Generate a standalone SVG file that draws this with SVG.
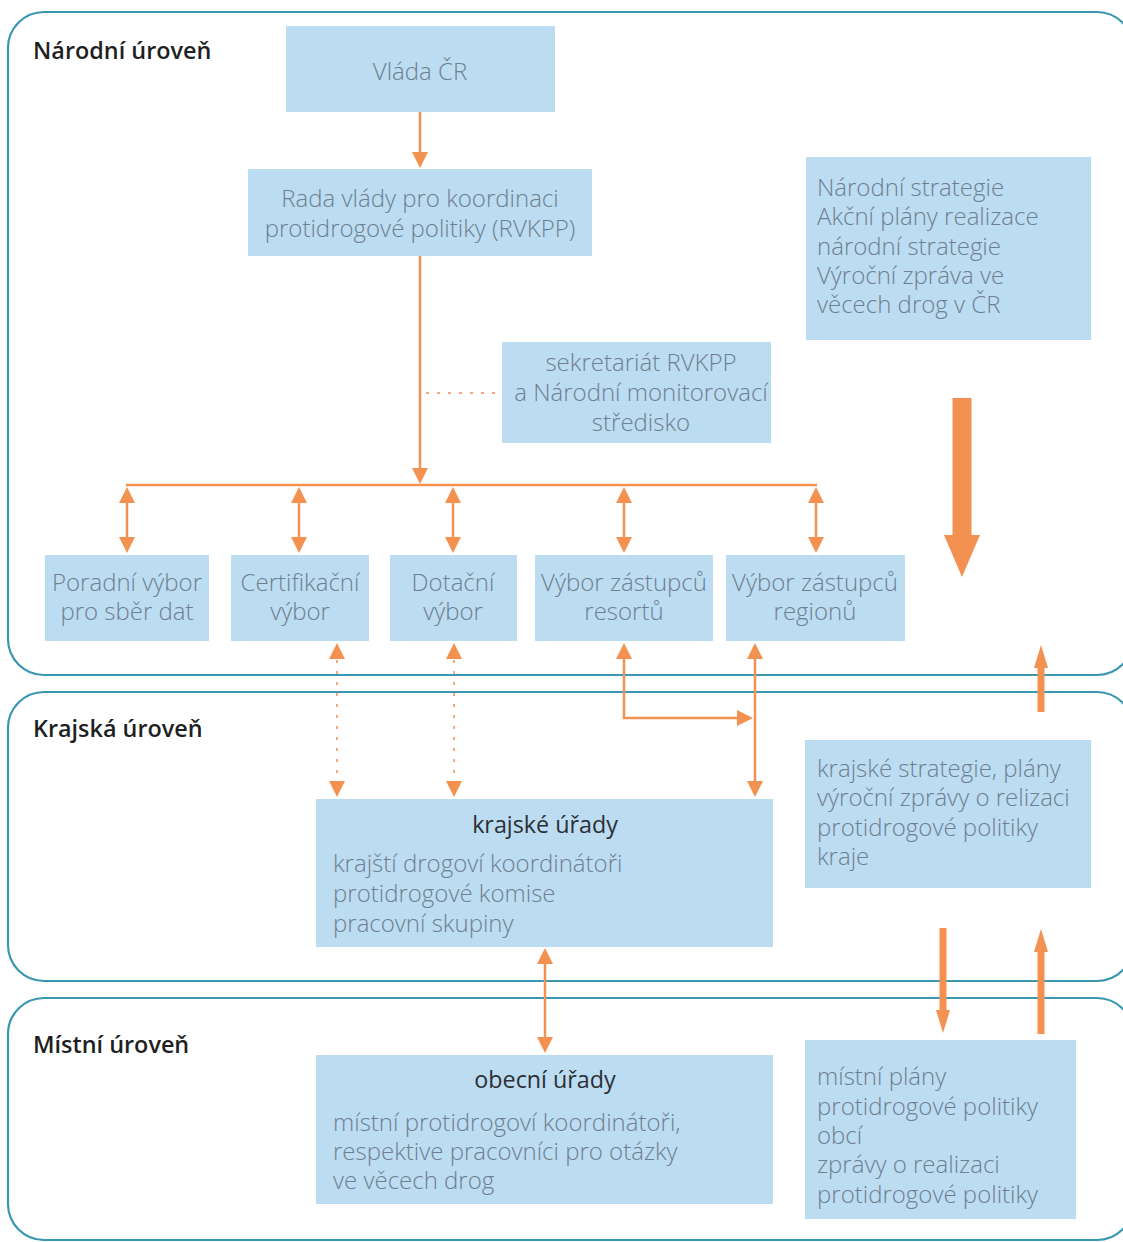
<svg xmlns="http://www.w3.org/2000/svg" width="1123" height="1242" viewBox="0 0 1123 1242">
<defs>
<style>
.panel{fill:none;stroke:#3a97b2;stroke-width:2.2}
.box{fill:#bcdcf2}
.t{font-family:"Open Sans","Liberation Sans",sans-serif;font-weight:300;font-size:24px;fill:#6e7f90}
.c{text-anchor:middle}
.h{font-family:"Open Sans","Liberation Sans",sans-serif;font-weight:600;font-size:23.4px;fill:#1f1f1f}
.tt{font-family:"Open Sans","Liberation Sans",sans-serif;font-weight:400;font-size:23.3px;fill:#2b2f35;text-anchor:middle}
.ln{fill:none;stroke:#f39150;stroke-width:2.5}
.ar{marker-end:url(#ah)}
.dbl{marker-start:url(#ah);marker-end:url(#ah)}
.dot{fill:none;stroke:#f5a879;stroke-width:2;stroke-dasharray:3 8}
.thick{fill:none;stroke:#f39150;stroke-width:7;marker-end:url(#ahT)}
.big{fill:#f39150}
</style>
<marker id="ah" viewBox="0 0 16 16" refX="0" refY="8" markerWidth="16" markerHeight="16" markerUnits="userSpaceOnUse" orient="auto-start-reverse">
<path d="M0,0 L16,8 L0,16 z" fill="#f39150"/>
</marker>
<marker id="ahT" viewBox="0 0 23 14" refX="0" refY="7" markerWidth="23" markerHeight="14" markerUnits="userSpaceOnUse" orient="auto">
<path d="M0,0 L23,7 L0,14 z" fill="#f39150"/>
</marker>
</defs>
<rect width="1123" height="1242" fill="#ffffff"/>

<g id="panels">
<rect id="panel-narodni" class="panel" x="8" y="12" width="1125" height="663" rx="36" ry="36"/>
<rect id="panel-krajska" class="panel" x="8" y="692" width="1125" height="289" rx="36" ry="36"/>
<rect id="panel-mistni" class="panel" x="8" y="998" width="1125" height="242" rx="36" ry="36"/>
<text class="h" x="33" y="59">Národní úroveň</text>
<text class="h" x="33" y="737">Krajská úroveň</text>
<text class="h" x="33" y="1053">Místní úroveň</text>
</g>

<g id="connectors">
<line class="ln ar" x1="420" y1="112" x2="420" y2="152"/>
<line class="ln ar" x1="420" y1="256" x2="420" y2="468"/>
<line class="dot" x1="426" y1="393" x2="501" y2="393"/>
<line class="ln" x1="126" y1="485" x2="817" y2="485"/>
<line class="ln dbl" x1="127" y1="503" x2="127" y2="537"/>
<line class="ln dbl" x1="299" y1="503" x2="299" y2="537"/>
<line class="ln dbl" x1="453" y1="503" x2="453" y2="537"/>
<line class="ln dbl" x1="624" y1="503" x2="624" y2="537"/>
<line class="ln dbl" x1="816" y1="503" x2="816" y2="537"/>
<line class="dot" x1="337" y1="660" x2="337" y2="781"/>
<path d="M329,659 L337,643 L345,659 z M329,781 L337,797 L345,781 z" fill="#f39150"/>
<line class="dot" x1="454" y1="660" x2="454" y2="781"/>
<path d="M446,659 L454,643 L462,659 z M446,781 L454,797 L462,781 z" fill="#f39150"/>
<path class="ln" d="M624,659 L624,718 L737,718" marker-end="url(#ah)"/>
<path d="M616,659 L624,643 L632,659 z" fill="#f39150"/>
<line class="ln dbl" x1="755" y1="659" x2="755" y2="781"/>
<polygon class="big" points="952.5,398 971.5,398 971.5,535 980,535 962,577 944,535 952.5,535"/>
<line class="thick" x1="1041" y1="712" x2="1041" y2="668"/>
<line class="thick" x1="943" y1="928" x2="943" y2="1010"/>
<line class="thick" x1="1041" y1="1034" x2="1041" y2="952"/>
<line class="ln dbl" x1="545" y1="964" x2="545" y2="1037"/>
</g>

<g id="vlada">
<rect class="box" x="286" y="26" width="269" height="86"/>
<text class="t c" x="420" y="80">Vláda ČR</text>
</g>
<g id="rada">
<rect class="box" x="248" y="169" width="344" height="87"/>
<text class="t c" x="420" y="207">Rada vlády pro koordinaci</text>
<text class="t c" x="420" y="237">protidrogové politiky (RVKPP)</text>
</g>
<g id="narodni-strategie">
<rect class="box" x="806" y="157" width="285" height="183"/>
<text class="t" x="817" y="196">Národní strategie</text>
<text class="t" x="817" y="225">Akční plány realizace</text>
<text class="t" x="817" y="255">národní strategie</text>
<text class="t" x="817" y="284">Výroční zpráva ve</text>
<text class="t" x="817" y="313">věcech drog v ČR</text>
</g>
<g id="sekretariat">
<rect class="box" x="502" y="342" width="269" height="101"/>
<text class="t c" x="641" y="371">sekretariát RVKPP</text>
<text class="t c" x="641" y="401">a Národní monitorovací</text>
<text class="t c" x="641" y="431">středisko</text>
</g>
<g id="poradni">
<rect class="box" x="45" y="555" width="164" height="86"/>
<text class="t c" x="127" y="591">Poradní výbor</text>
<text class="t c" x="127" y="620">pro sběr dat</text>
</g>
<g id="certifikacni">
<rect class="box" x="231" y="555" width="138" height="86"/>
<text class="t c" x="300" y="591">Certifikační</text>
<text class="t c" x="300" y="620">výbor</text>
</g>
<g id="dotacni">
<rect class="box" x="390" y="555" width="127" height="86"/>
<text class="t c" x="453" y="591">Dotační</text>
<text class="t c" x="453" y="620">výbor</text>
</g>
<g id="vybor-resortu">
<rect class="box" x="535" y="555" width="178" height="86"/>
<text class="t c" x="624" y="591">Výbor zástupců</text>
<text class="t c" x="624" y="620">resortů</text>
</g>
<g id="vybor-regionu">
<rect class="box" x="726" y="555" width="179" height="86"/>
<text class="t c" x="815" y="591">Výbor zástupců</text>
<text class="t c" x="815" y="620">regionů</text>
</g>
<g id="krajske-urady">
<rect class="box" x="316" y="799" width="457" height="148"/>
<text class="tt" x="545" y="833">krajské úřady</text>
<text class="t" x="333" y="872">krajští drogoví koordinátoři</text>
<text class="t" x="333" y="902">protidrogové komise</text>
<text class="t" x="333" y="932">pracovní skupiny</text>
</g>
<g id="krajske-strategie">
<rect class="box" x="805" y="740" width="286" height="148"/>
<text class="t" x="817" y="777">krajské strategie, plány</text>
<text class="t" x="817" y="806">výroční zprávy o relizaci</text>
<text class="t" x="817" y="836">protidrogové politiky</text>
<text class="t" x="817" y="865">kraje</text>
</g>
<g id="obecni-urady">
<rect class="box" x="316" y="1055" width="457" height="149"/>
<text class="tt" x="545" y="1088">obecní úřady</text>
<text class="t" x="333" y="1131">místní protidrogoví koordinátoři,</text>
<text class="t" x="333" y="1160">respektive pracovníci pro otázky</text>
<text class="t" x="333" y="1189">ve věcech drog</text>
</g>
<g id="mistni-plany">
<rect class="box" x="805" y="1040" width="271" height="179"/>
<text class="t" x="817" y="1085">místní plány</text>
<text class="t" x="817" y="1115">protidrogové politiky</text>
<text class="t" x="817" y="1144">obcí</text>
<text class="t" x="817" y="1173">zprávy o realizaci</text>
<text class="t" x="817" y="1203">protidrogové politiky</text>
</g>
</svg>
